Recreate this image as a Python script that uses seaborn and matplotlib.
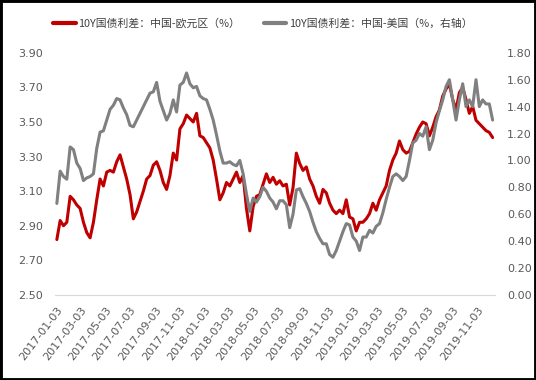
import matplotlib
matplotlib.use('Agg')
import matplotlib.pyplot as plt
from matplotlib.patches import Rectangle
import pandas as pd
import seaborn as sns

# 10Y spreads, one point roughly every 8 days
start_date = '2017-01-05'
step = '196h'

cn_eu = [2.82, 2.93, 2.90, 2.92, 3.07, 3.05, 3.02, 3.00, 2.92, 2.86, 2.83, 2.92, 3.05, 3.17, 3.13, 3.21,
         3.22, 3.21, 3.27, 3.31, 3.24, 3.17, 3.08, 2.94, 2.98, 3.04, 3.10, 3.17, 3.19, 3.25, 3.27,
         3.22, 3.15, 3.11, 3.19, 3.32, 3.28, 3.46, 3.49, 3.54, 3.52, 3.50, 3.55, 3.42, 3.41, 3.38, 3.35,
         3.28, 3.17, 3.05, 3.09, 3.15, 3.13, 3.17, 3.21, 3.15, 3.19, 3.00, 2.87, 3.01, 3.07, 3.08, 3.14, 3.20,
         3.15, 3.18, 3.14, 3.16, 3.13, 3.14, 3.02, 3.12, 3.32, 3.26, 3.22, 3.24, 3.17, 3.13, 3.07, 3.03,
         3.11, 3.09, 3.03, 2.99, 2.97, 2.99, 2.97, 3.05, 2.95, 2.94, 2.87, 2.92, 2.92, 2.94, 2.97, 3.03, 2.99,
         3.05, 3.09, 3.13, 3.22, 3.28, 3.32, 3.39, 3.34, 3.32, 3.33, 3.38, 3.43, 3.47, 3.50, 3.49, 3.42,
         3.47, 3.53, 3.57, 3.65, 3.69, 3.72, 3.63, 3.57, 3.67, 3.70, 3.63, 3.55, 3.59, 3.51, 3.49, 3.47,
         3.45, 3.44, 3.41]

cn_us = [0.68, 0.92, 0.88, 0.86, 1.10, 1.08, 0.98, 0.94, 0.85, 0.87, 0.88, 0.90, 1.09, 1.21, 1.22, 1.30,
         1.38, 1.41, 1.46, 1.45, 1.39, 1.34, 1.26, 1.25, 1.30, 1.35, 1.40, 1.45, 1.50, 1.51, 1.58,
         1.44, 1.37, 1.30, 1.35, 1.45, 1.36, 1.56, 1.58, 1.65, 1.57, 1.54, 1.55, 1.48, 1.46, 1.45, 1.38,
         1.30, 1.19, 1.07, 0.98, 0.98, 0.99, 0.97, 0.96, 1.00, 0.90, 0.75, 0.62, 0.72, 0.69, 0.73, 0.80, 0.77,
         0.72, 0.69, 0.64, 0.70, 0.70, 0.67, 0.50, 0.60, 0.78, 0.79, 0.73, 0.68, 0.62, 0.54, 0.47, 0.42,
         0.38, 0.38, 0.30, 0.28, 0.33, 0.40, 0.47, 0.53, 0.52, 0.43, 0.40, 0.33, 0.43, 0.43, 0.48, 0.46, 0.51,
         0.53, 0.61, 0.71, 0.80, 0.88, 0.90, 0.88, 0.85, 0.88, 1.00, 1.13, 1.15, 1.20, 1.18, 1.25, 1.08,
         1.15, 1.28, 1.37, 1.45, 1.55, 1.60, 1.45, 1.30, 1.45, 1.57, 1.40, 1.45, 1.40, 1.60, 1.40, 1.45,
         1.42, 1.42, 1.30]

labels = ['10Y国债利差：中国-欧元区（%）', '10Y国债利差：中国-美国（%，右轴）']
left_ticks = [2.5, 2.7, 2.9, 3.1, 3.3, 3.5, 3.7, 3.9]
right_ticks = [0.0, 0.2, 0.4, 0.6, 0.8, 1.0, 1.2, 1.4, 1.6, 1.8]
tick_dates = [pd.Timestamp('2017-01-03') + pd.DateOffset(months=2 * i) for i in range(18)]

df = pd.DataFrame({
    'date': pd.date_range(start_date, periods=len(cn_eu), freq=step),
    'eu': cn_eu,
    'us': cn_us,
})

sns.set_style('white')
plt.rcParams['font.family'] = ['DejaVu Sans', 'Noto Sans CJK SC']

fig, ax = plt.subplots(figsize=(5.36, 3.8), dpi=100)
fig.subplots_adjust(left=0.103, right=0.923, bottom=0.224, top=0.861)

sns.lineplot(data=df, x='date', y='eu', ax=ax, color='#C00000', linewidth=2.2)
ax2 = ax.twinx()
sns.lineplot(data=df, x='date', y='us', ax=ax2, color='#808080', linewidth=2.2)

ax.set_ylim(2.5, 3.9)
ax2.set_ylim(0, 1.8)
ax.set_yticks(left_ticks)
ax.set_yticklabels(['%.2f' % v for v in left_ticks])
ax2.set_yticks(right_ticks)
ax2.set_yticklabels(['%.2f' % v for v in right_ticks])
for a in (ax, ax2):
    a.tick_params(axis='y', length=0, pad=9, labelsize=8, labelcolor='#595959')
    a.set_xlabel('')
    a.set_ylabel('')
    for s in ('top', 'left', 'right'):
        a.spines[s].set_visible(False)
ax2.spines['bottom'].set_visible(False)
ax.spines['bottom'].set_color('#d9d9d9')

ax.set_xlim(pd.Timestamp('2017-01-01'), pd.Timestamp('2019-12-16'))
ax.set_xticks(tick_dates)
ax.set_xticklabels([d.strftime('%Y-%m-%d') for d in tick_dates], rotation=53,
                   ha='right', rotation_mode='anchor')
ax.tick_params(axis='x', length=4, color='#d9d9d9', labelsize=8, labelcolor='#595959', pad=3)

# legend across the top
handles = [ax.get_lines()[0], ax2.get_lines()[0]]
leg = fig.legend(handles, labels, loc='upper center', bbox_to_anchor=(0.49, 0.977), ncol=2,
                 frameon=False, handlelength=2.1, handletextpad=0.2, columnspacing=2.2,
                 prop={'family': ['Noto Sans CJK SC', 'DejaVu Sans'], 'size': 7.8})
for t in leg.get_texts():
    t.set_color('#404040')
for h in leg.legend_handles:
    h.set_linewidth(3)

# outer frame
fig.patches.append(Rectangle((0, 0), 1, 1, transform=fig.transFigure, fill=False,
                             edgecolor='black', linewidth=3.5))

fig.savefig('out.png', dpi=100)
